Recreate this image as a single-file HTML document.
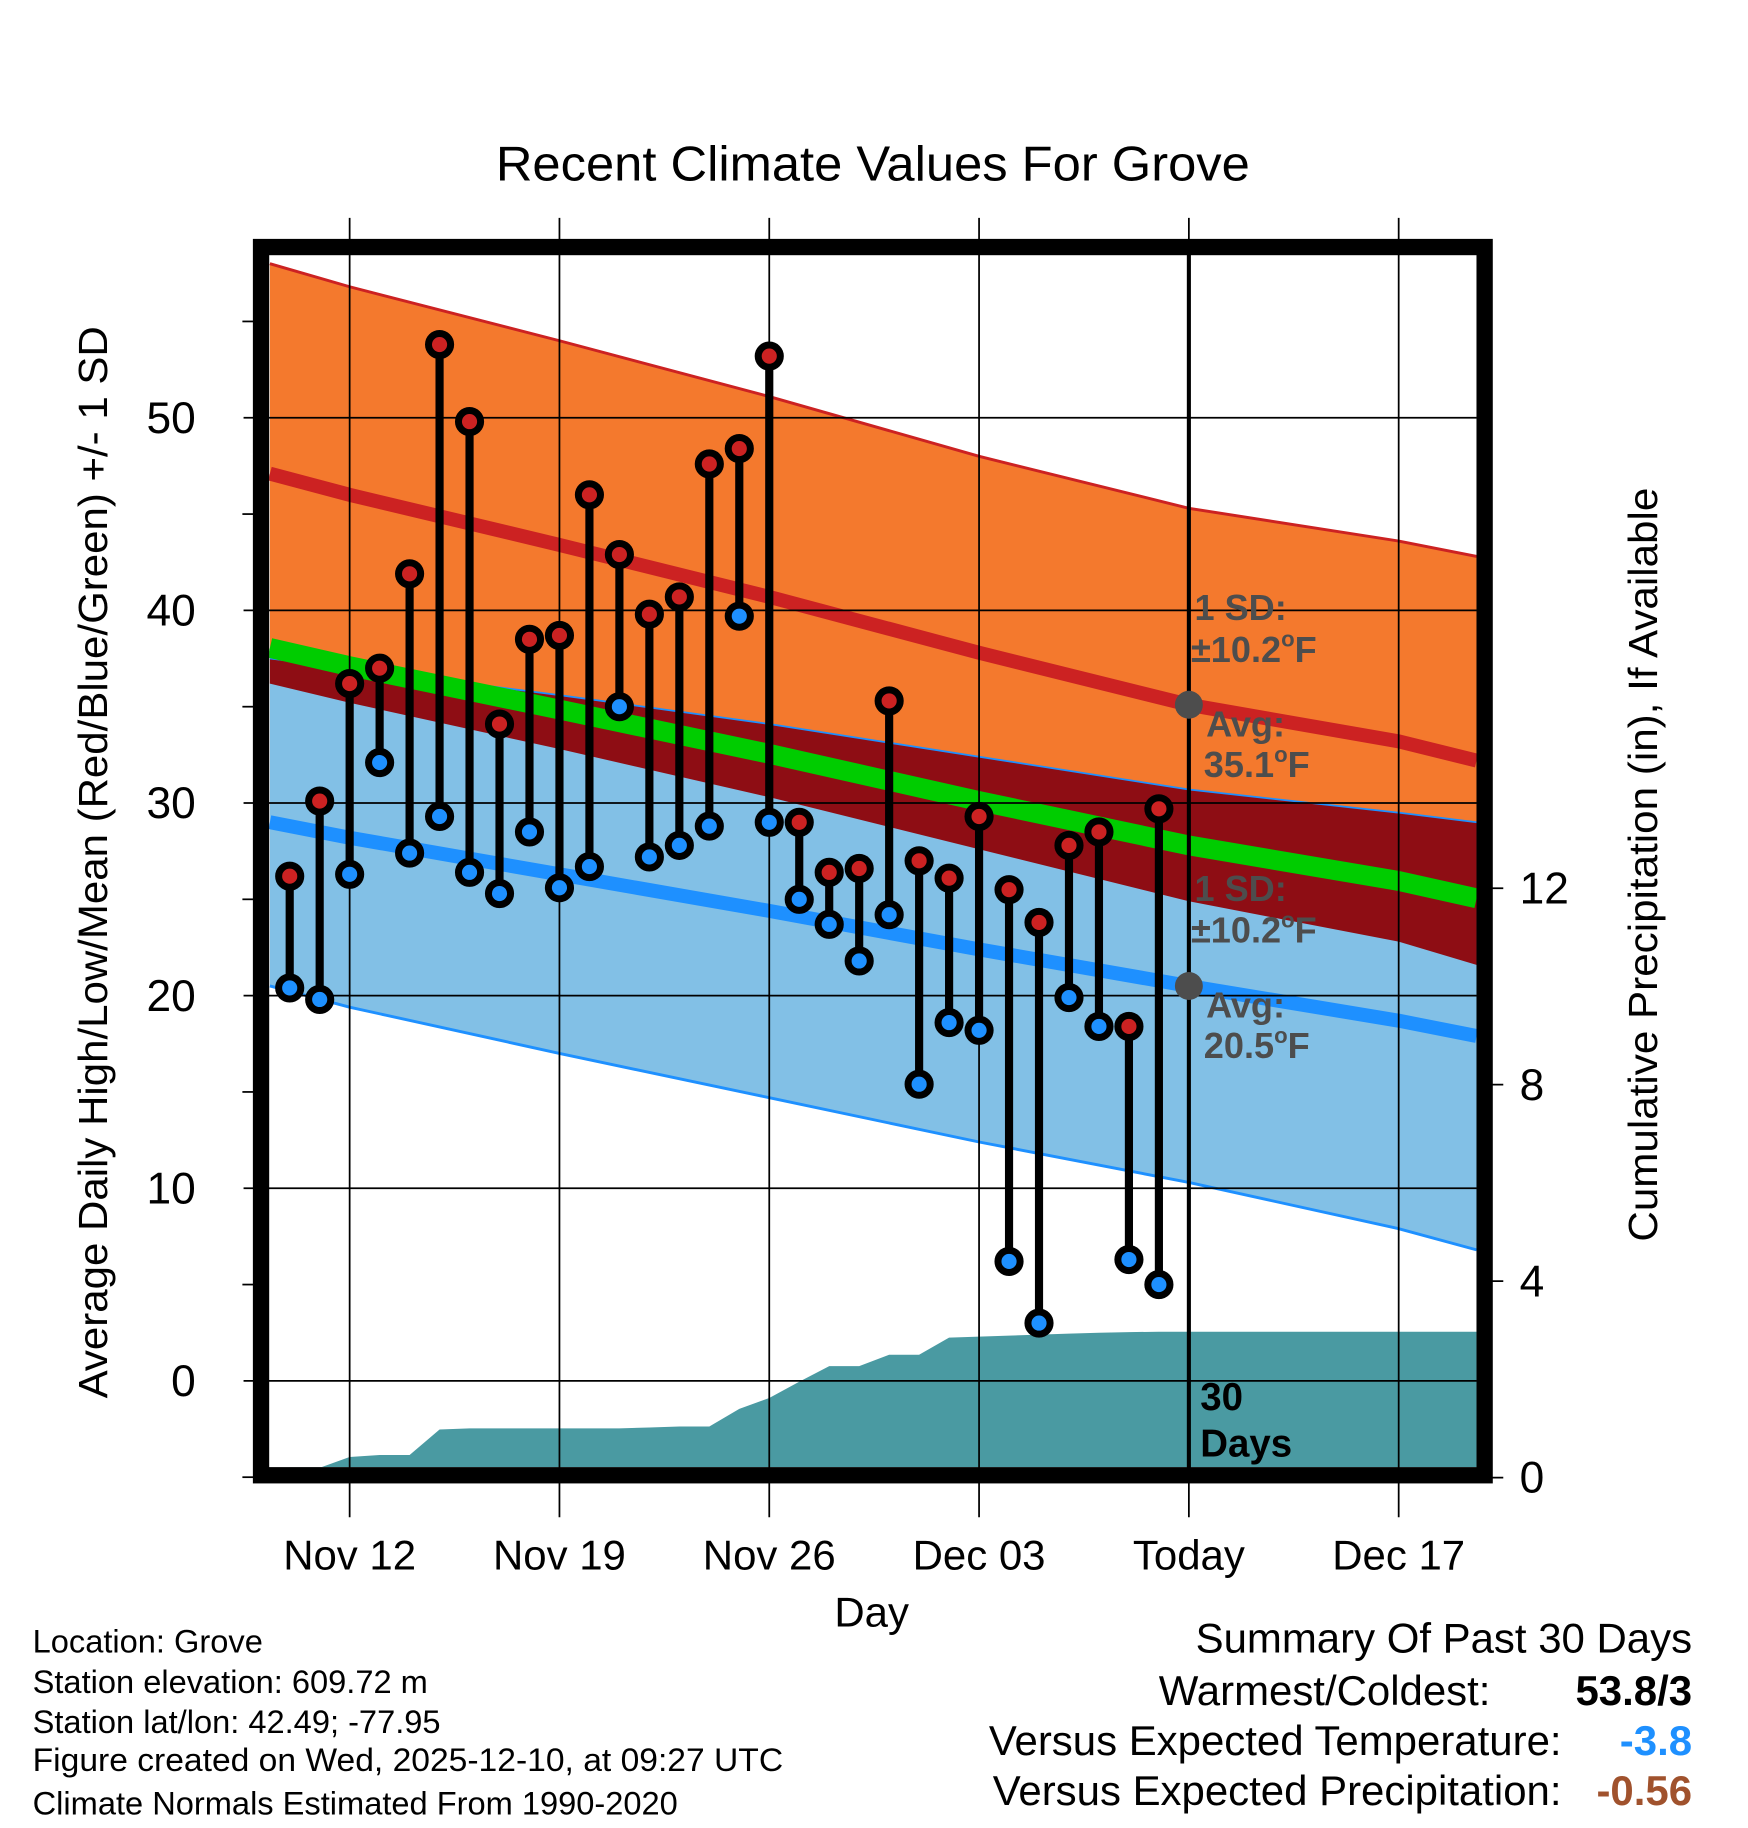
<!DOCTYPE html>
<html><head><meta charset="utf-8"><style>
html,body{margin:0;padding:0;background:#fff}
svg{display:block}
text{font-family:"Liberation Sans",sans-serif}
</style></head><body>
<svg id="chart" width="1748" height="1828" viewBox="0 0 1500 1568.7" preserveAspectRatio="none" xmlns="http://www.w3.org/2000/svg" style="position:absolute;left:0;top:0">
<defs><clipPath id="plotclip"><rect x="231" y="219" width="1036" height="1040"/></clipPath></defs>
<rect x="0" y="0" width="1500" height="1568.7" fill="#fff"/>
<g id="bands" clip-path="url(#plotclip)"></g>
<g id="grid"></g>
<g id="marks" clip-path="url(#plotclip)"></g>
<g id="frame"></g>
<g id="labels"></g>
</svg>
<script>
// ---- data ----
const dayLabels = ["Nov 10","Nov 11","Nov 12","Nov 13","Nov 14","Nov 15","Nov 16","Nov 17","Nov 18","Nov 19","Nov 20","Nov 21","Nov 22","Nov 23","Nov 24","Nov 25","Nov 26","Nov 27","Nov 28","Nov 29","Nov 30","Dec 01","Dec 02","Dec 03","Dec 04","Dec 05","Dec 06","Dec 07","Dec 08","Dec 09"];
const highs = [26.2,30.1,36.2,37.0,41.9,53.8,49.8,34.1,38.5,38.7,46.0,42.9,39.8,40.7,47.6,48.4,53.2,29.0,26.4,26.6,35.3,27.0,26.1,29.3,25.5,23.8,27.8,28.5,18.4,29.7];
const lows  = [20.4,19.8,26.3,32.1,27.4,29.3,26.4,25.3,28.5,25.6,26.7,35.0,27.2,27.8,28.8,39.7,29.0,25.0,23.7,21.8,24.2,15.4,18.6,18.2,6.2,3.0,19.9,18.4,6.3,5.0];
const precip = [0.0,0.2,0.42,0.46,0.46,0.98,1.0,1.0,1.0,1.0,1.0,1.0,1.02,1.04,1.04,1.4,1.62,1.95,2.27,2.27,2.5,2.5,2.85,2.87,2.89,2.91,2.93,2.95,2.96,2.97];
const normDays = [-0.66,2,9,16,23,30,37,39.6];
const normHigh = [47.1,46.0,43.4,40.7,37.8,35.1,33.2,32.2];
const normHighSd = [10.9,10.8,10.6,10.4,10.2,10.2,10.4,10.6];
const normLow = [29.0,28.2,26.3,24.4,22.4,20.5,18.7,17.9];
const normLowSd = [8.5,8.8,9.3,9.7,10.0,10.2,10.8,11.1];
const xTickDays = [2,9,16,23,30,37];
const xTickLabels = ["Nov 12","Nov 19","Nov 26","Dec 03","Today","Dec 17"];
const yTicks = [0,10,20,30,40,50];
const yMinor = [-5,5,15,25,35,45,55];
const pTicks = [0,4,8,12];

const X = d => 248.6 + d*25.72;
const Y = v => 1185 - v*16.53;
const P = v => 1268 - v*42.15;
const XL = 231, XR = 1267, YT = 219, YB = 1259;
const NS = "http://www.w3.org/2000/svg";
function mk(tag, attrs, parent){const e=document.createElementNS(NS,tag);for(const k in attrs)e.setAttribute(k,attrs[k]);parent.appendChild(e);return e;}
const bands=document.getElementById('bands'), grid=document.getElementById('grid'), marks=document.getElementById('marks'), frame=document.getElementById('frame'), labels=document.getElementById('labels');

function pts(arrFn){return normDays.map((d,i)=>X(d).toFixed(1)+','+Y(arrFn(i)).toFixed(1));}
const hiUp = i=>normHigh[i]+normHighSd[i], hiDn=i=>normHigh[i]-normHighSd[i];
const loUp = i=>normLow[i]+normLowSd[i], loDn=i=>normLow[i]-normLowSd[i];
function band(fa,fb,fill,name){
  const p = pts(fa).concat(pts(fb).reverse()).join(' ');
  const e = mk('polygon',{points:p,fill:fill},bands);
  
  
}
band(hiUp,hiDn,'#f4792d','high-sd-band');
band(loUp,loDn,'#82c0e6','low-sd-band');
band(loUp,hiDn,'#8e0d14','overlap-band');
function line(f,stroke,w,name){
  const e = mk('polyline',{points:pts(f).join(' '),fill:'none',stroke:stroke,'stroke-width':w},bands);
  
  
}
line(hiUp,'#cc2222',2.5,'high-plus-sd-line');
line(loUp,'#1e90ff',1.5,'low-plus-sd-line');
line(loDn,'#1e90ff',2.5,'low-minus-sd-line');
line(i=>(normHigh[i]+normLow[i])/2,'#00cc00',17,'mean-normal-line');
line(i=>normHigh[i],'#cc2222',12,'avg-high-line');
line(i=>normLow[i],'#1e90ff',12,'avg-low-line');

{
  let p = [XL+','+YB, X(0)+','+Math.min(P(precip[0]),YB)];
  precip.forEach((v,i)=>p.push(X(i).toFixed(1)+','+P(v).toFixed(1)));
  p.push(XR+','+P(precip[precip.length-1]).toFixed(1));
  p.push(XR+','+YB);
  const e = mk('polygon',{points:p.join(' '),fill:'#4a9aa2'},bands);
  
  
}

xTickDays.forEach((d,i)=>{
  const e = mk('line',{x1:X(d),x2:X(d),y1:187,y2:1302,stroke:'#000','stroke-width':1.5},grid);
  
  
  const t = mk('text',{x:X(d),y:1347,'text-anchor':'middle','font-size':36,fill:'#000'},labels);
  t.textContent = xTickLabels[i];
  
  
});
yTicks.forEach(v=>{
  const e = mk('line',{x1:209,x2:XR,y1:Y(v),y2:Y(v),stroke:'#000','stroke-width':1.5},grid);
  
  
  const t = mk('text',{x:168,y:Y(v)+13,'text-anchor':'end','font-size':38,fill:'#000'},labels);
  t.textContent = v;
  
  
});
yMinor.forEach(v=>{
  const e = mk('line',{x1:208,x2:220,y1:Y(v),y2:Y(v),stroke:'#000','stroke-width':1.5},grid);
  
  
});
pTicks.forEach(v=>{
  const e = mk('line',{x1:1270,x2:1290,y1:P(v),y2:P(v),stroke:'#000','stroke-width':1.5},grid);
  
  
  const t = mk('text',{x:1304,y:P(v)+13,'text-anchor':'start','font-size':38,fill:'#000'},labels);
  t.textContent = v;
  
  
});

{
  const e = mk('line',{x1:X(30),x2:X(30),y1:212,y2:1262,stroke:'#000','stroke-width':3.5},frame);
  
  
}

highs.forEach((h,i)=>{
  const s = mk('line',{x1:X(i),x2:X(i),y1:Y(h),y2:Y(lows[i]),stroke:'#000','stroke-width':7},marks);
  
  
});
lows.forEach((v,i)=>{
  const c = mk('circle',{cx:X(i),cy:Y(v),r:9.5,fill:'#1e90ff',stroke:'#000','stroke-width':6},marks);
  
  
});
highs.forEach((v,i)=>{
  const c = mk('circle',{cx:X(i),cy:Y(v),r:9.5,fill:'#cc2222',stroke:'#000','stroke-width':6},marks);
  
  
});

{
  const r = mk('rect',{x:224,y:212,width:1050,height:1054,fill:'none',stroke:'#000','stroke-width':14},frame);
  
  
}

[normHigh[5],normLow[5]].forEach(v=>{
  const c = mk('circle',{cx:X(30),cy:Y(v),r:12,fill:'#4d4d4d'},frame);
  
  
});
</script>
<svg style="position:absolute;left:0;top:0" width="1748" height="1828" viewBox="0 0 1500 1568.7" preserveAspectRatio="none" xmlns="http://www.w3.org/2000/svg">
<g font-family="Liberation Sans, sans-serif">
<text x="749" y="155" text-anchor="middle" font-size="42" textLength="647" lengthAdjust="spacingAndGlyphs">Recent Climate Values For Grove</text>
<text transform="translate(92,740) rotate(-90)" text-anchor="middle" font-size="35" textLength="920" lengthAdjust="spacingAndGlyphs">Average Daily High/Low/Mean (Red/Blue/Green) +/- 1 SD</text>
<text transform="translate(1422,742) rotate(-90)" text-anchor="middle" font-size="35" textLength="647" lengthAdjust="spacingAndGlyphs">Cumulative Precipitation (in), If Available</text>
<text x="748" y="1396" text-anchor="middle" font-size="36">Day</text>
<g font-weight="bold" font-size="31" fill="#4d4d4d">
<text x="1025" y="532">1 SD:</text>
<text x="1022" y="568">±10.2<tspan font-size="19" dy="-13">o</tspan><tspan dy="13">F</tspan></text>
<text x="1035" y="632">Avg:</text>
<text x="1033" y="667">35.1<tspan font-size="19" dy="-13">o</tspan><tspan dy="13">F</tspan></text>
<text x="1025" y="773">1 SD:</text>
<text x="1022" y="809">±10.2<tspan font-size="19" dy="-13">o</tspan><tspan dy="13">F</tspan></text>
<text x="1035" y="873">Avg:</text>
<text x="1033" y="908">20.5<tspan font-size="19" dy="-13">o</tspan><tspan dy="13">F</tspan></text>
</g>
<text x="1030" y="1210" font-weight="bold" font-size="33">30</text>
<text x="1030" y="1250" font-weight="bold" font-size="33">Days</text>
<g font-size="28">
<text x="28" y="1418">Location: Grove</text>
<text x="28" y="1453">Station elevation: 609.72 m</text>
<text x="28" y="1487">Station lat/lon: 42.49; -77.95</text>
<text x="28" y="1520" textLength="644" lengthAdjust="spacingAndGlyphs">Figure created on Wed, 2025-12-10, at 09:27 UTC</text>
<text x="28" y="1557">Climate Normals Estimated From 1990-2020</text>
</g>
<g font-size="36">
<text x="1452" y="1418" text-anchor="end">Summary Of Past 30 Days</text>
<text x="1279" y="1463" text-anchor="end">Warmest/Coldest:</text>
<text x="1452" y="1463" text-anchor="end" font-weight="bold">53.8/3</text>
<text x="1340" y="1506" text-anchor="end">Versus Expected Temperature:</text>
<text x="1452" y="1506" text-anchor="end" font-weight="bold" fill="#1e90ff">-3.8</text>
<text x="1340" y="1549" text-anchor="end">Versus Expected Precipitation:</text>
<text x="1452" y="1549" text-anchor="end" font-weight="bold" fill="#a0522d">-0.56</text>
</g>
</g>
</svg>
</body></html>
